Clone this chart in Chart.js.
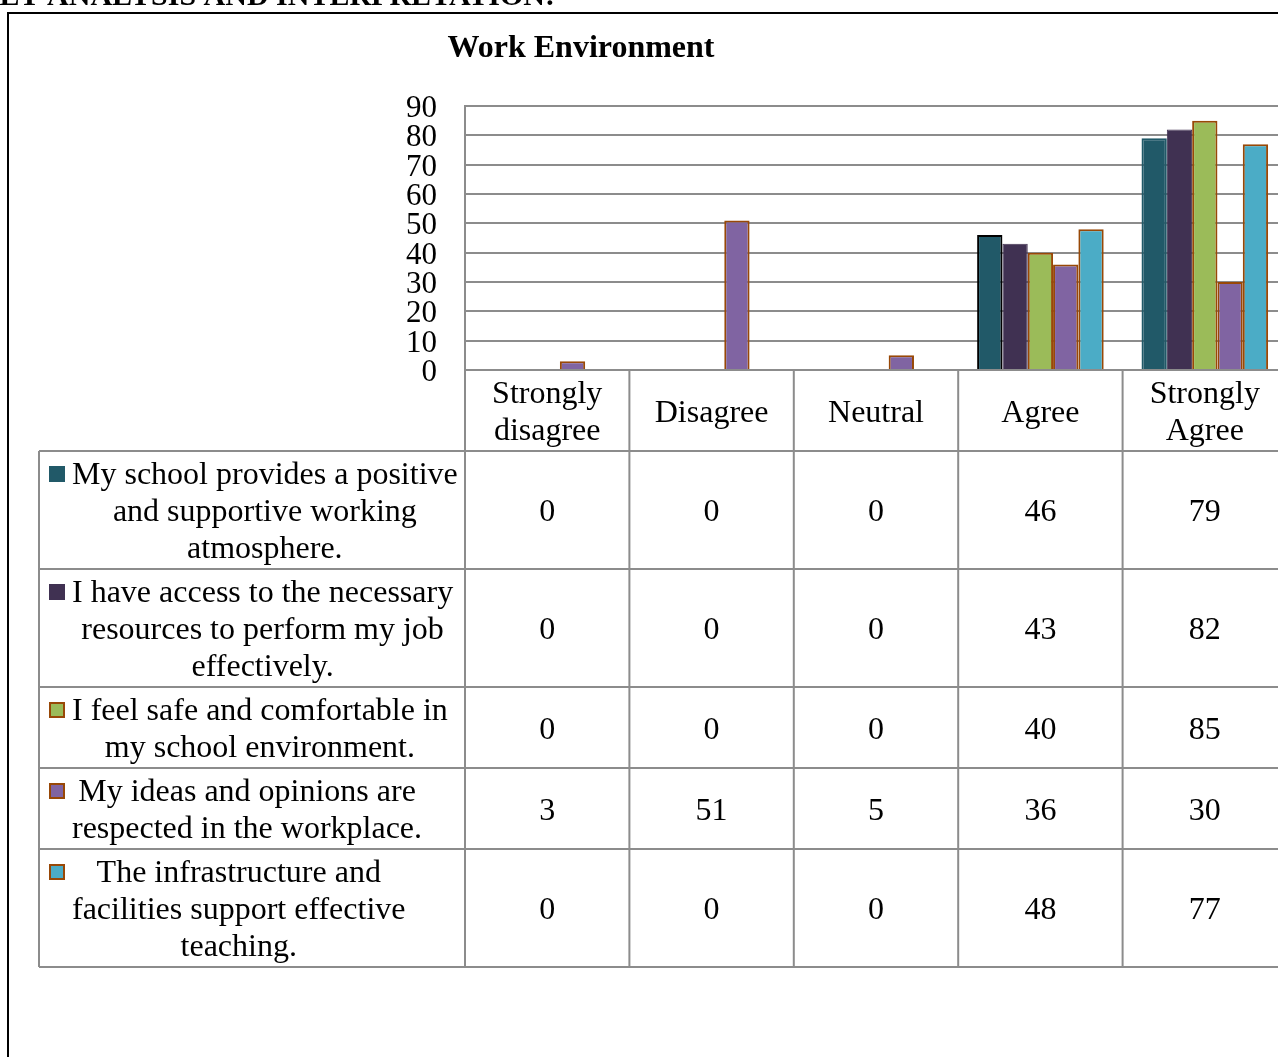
<!DOCTYPE html>
<html>
<head>
<meta charset="utf-8">
<title>Work Environment</title>
<script src="https://cdn.jsdelivr.net/npm/chart.js@4.4.1/dist/chart.umd.min.js"></script>
<style>
  html, body { margin: 0; padding: 0; background: #fff; overflow: hidden; }
  #frame { position: absolute; left: 7px; top: 12px; width: 1400px; height: 1200px; border: 2px solid #000; box-sizing: border-box; }
  #chart { position: absolute; left: 0; top: 0; }
</style>
</head>
<body>
<div id="frame"></div>
<canvas id="chart" width="1300" height="1057"></canvas>
<script>
// categories along the x axis
const categories = ['Strongly disagree', 'Disagree', 'Neutral', 'Agree', 'Strongly Agree'];

// statement labels, line by line as they wrap in the data table
const atmosphereLabel = ['My school provides a positive', 'and supportive working', 'atmosphere.'];
const resourcesLabel = ['I have access to the necessary', 'resources to perform my job', 'effectively.'];
const safetyLabel = ['I feel safe and comfortable in', 'my school environment.'];
const respectedLabel = ['My ideas and opinions are', 'respected in the workplace.'];
const facilitiesLabel = ['The infrastructure and', 'facilities support effective', 'teaching.'];

// responses per category
const atmosphere = [0, 0, 0, 46, 79];
const resources = [0, 0, 0, 43, 82];
const safety = [0, 0, 0, 40, 85];
const respected = [3, 51, 5, 36, 30];
const facilities = [0, 0, 0, 48, 77];

const yMin = 0;
const yMax = 90;
const yStep = 10;

const heading = 'DATASET ANALYSIS AND INTERPRETATION:';
const chartTitle = 'Work Environment';

const SERIF = '"Liberation Serif", "Times New Roman", serif';
const GRID = '#8c8c8c';
const BROWN = '#984807';

function wrapText(ctx, text, maxW) {
  const words = text.split(' ');
  const out = [];
  let cur = '';
  words.forEach(w => {
    const test = cur ? cur + ' ' + w : w;
    if (cur && ctx.measureText(test).width > maxW) {
      out.push(cur);
      cur = w;
    } else {
      cur = test;
    }
  });
  if (cur) out.push(cur);
  return out;
}

// draws heading, title and the data table under the plot
const dataTablePlugin = {
  id: 'dataTable',
  afterDraw(chart) {
    const ctx = chart.ctx;
    const xs = chart.scales.x;
    const area = chart.chartArea;
    const colW = xs.width / categories.length;
    const lineH = 37;
    const textDy = 3; // nudge so the glyphs sit centred like the original
    const tableLeft = 39;
    const tableRight = area.right;

    ctx.save();
    ctx.fillStyle = '#000';

    // page heading, cut off at the top
    ctx.font = 'bold 30px ' + SERIF;
    ctx.textAlign = 'right';
    ctx.textBaseline = 'alphabetic';
    ctx.fillText(heading, 555, 5);

    // chart title
    ctx.font = 'bold 32px ' + SERIF;
    ctx.textAlign = 'center';
    ctx.fillText(chartTitle, 581, 57);

    ctx.font = '32px ' + SERIF;
    ctx.textBaseline = 'middle';

    const headerLines = categories.map(c => wrapText(ctx, c, colW - 20));
    const headerTop = area.bottom;
    const headerH = Math.max(...headerLines.map(l => l.length)) * lineH + 7;

    const rowTops = [];
    let y = headerTop + headerH;
    chart.data.datasets.forEach(ds => {
      rowTops.push(y);
      y += ds.lines.length * lineH + 7;
    });
    const tableBottom = y;

    // grid of the table
    ctx.strokeStyle = GRID;
    ctx.lineWidth = 2;
    ctx.beginPath();
    rowTops.concat([tableBottom]).forEach(ry => {
      ctx.moveTo(tableLeft, ry);
      ctx.lineTo(tableRight, ry);
    });
    for (let k = 0; k <= categories.length; k++) {
      const vx = area.left + k * colW;
      ctx.moveTo(vx, headerTop);
      ctx.lineTo(vx, tableBottom);
    }
    ctx.moveTo(tableLeft, rowTops[0]);
    ctx.lineTo(tableLeft, tableBottom);
    ctx.stroke();

    // header labels
    ctx.textAlign = 'center';
    headerLines.forEach((lines, i) => {
      const cx = xs.getPixelForValue(i);
      const mid = headerTop + headerH / 2 + textDy;
      lines.forEach((ln, j) => {
        ctx.fillText(ln, cx, mid - (lines.length - 1) * lineH / 2 + j * lineH);
      });
    });

    // rows: key, statement and values
    chart.data.datasets.forEach((ds, r) => {
      const top = rowTops[r];
      const h = ds.lines.length * lineH + 7;
      const mid = top + h / 2 + textDy;
      const firstY = mid - (ds.lines.length - 1) * lineH / 2;

      const keyBorder = typeof ds.borderColor === 'string' ? ds.borderColor : ds.backgroundColor;
      ctx.fillStyle = keyBorder;
      ctx.fillRect(49, firstY - 10, 16, 16);
      ctx.fillStyle = ds.backgroundColor;
      ctx.fillRect(51, firstY - 8, 12, 12);

      ctx.fillStyle = '#000';
      const blockW = Math.max(...ds.lines.map(ln => ctx.measureText(ln).width));
      const bx = 72 + blockW / 2;
      ds.lines.forEach((ln, j) => ctx.fillText(ln, bx, firstY + j * lineH));

      ds.data.forEach((v, i) => {
        ctx.fillText(String(v), xs.getPixelForValue(i), mid);
      });
    });

    ctx.restore();
  }
};

const ctx = document.getElementById('chart').getContext('2d');
new Chart(ctx, {
  type: 'bar',
  data: {
    labels: categories,
    datasets: [
      {
        label: atmosphereLabel.join(' '), lines: atmosphereLabel, data: atmosphere,
        backgroundColor: '#215968',
        borderColor: ['#215968', '#215968', '#215968', '#000000', '#215968'],
        borderWidth: 2
      },
      {
        label: resourcesLabel.join(' '), lines: resourcesLabel, data: resources,
        backgroundColor: '#403152', borderColor: '#403152', borderWidth: 1
      },
      {
        label: safetyLabel.join(' '), lines: safetyLabel, data: safety,
        backgroundColor: '#9BBB59', borderColor: BROWN, borderWidth: 2
      },
      {
        label: respectedLabel.join(' '), lines: respectedLabel, data: respected,
        backgroundColor: '#8064A2', borderColor: BROWN, borderWidth: 2
      },
      {
        label: facilitiesLabel.join(' '), lines: facilitiesLabel, data: facilities,
        backgroundColor: '#4BACC6', borderColor: BROWN, borderWidth: 2
      }
    ]
  },
  options: {
    responsive: false,
    animation: false,
    events: [],
    datasets: {
      bar: { categoryPercentage: 0.77, barPercentage: 1 }
    },
    layout: { padding: { top: 106, right: 13, bottom: 0, left: 0 } },
    plugins: {
      legend: { display: false },
      title: { display: false },
      tooltip: { enabled: false }
    },
    scales: {
      x: {
        grid: { display: false },
        border: { display: true, color: GRID, width: 2 },
        ticks: { display: false },
        afterFit: s => { s.height = 687; }
      },
      y: {
        min: yMin,
        max: yMax,
        ticks: {
          stepSize: yStep,
          autoSkip: false,
          padding: 28,
          labelOffset: 3,
          color: '#000',
          font: { family: SERIF, size: 31, lineHeight: 1 }
        },
        grid: { color: GRID, lineWidth: 2, drawTicks: false },
        border: { color: GRID, width: 2 },
        afterFit: s => { s.width = 465; }
      }
    }
  },
  plugins: [dataTablePlugin]
});
</script>
</body>
</html>
